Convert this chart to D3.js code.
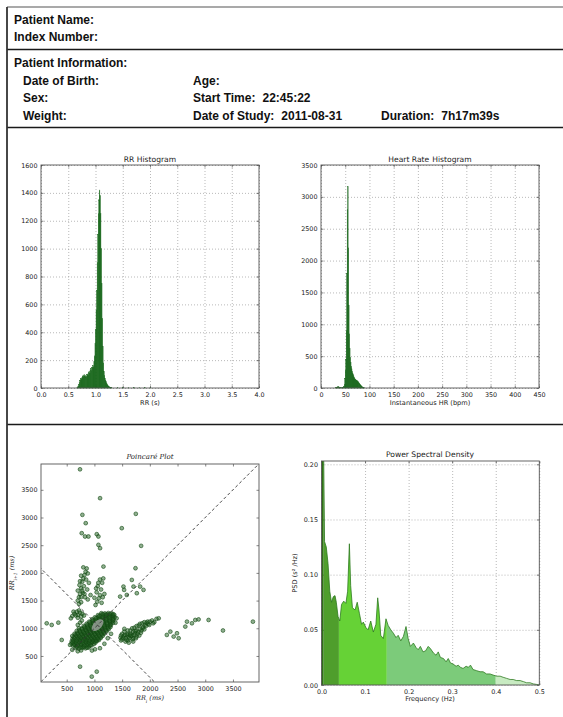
<!DOCTYPE html>
<html>
<head>
<meta charset="utf-8">
<script src="https://cdn.jsdelivr.net/npm/d3@7"></script>
<style>
  body { margin: 0; background: #fff; }
  svg { display: block; }
  .tick text { font-family: "DejaVu Sans", sans-serif; font-size: 6.4px; fill: #222; }
  .ax .domain { display: none; }
  .ax .tick line { stroke: #333; stroke-width: 0.6; }
  .grid .domain { display: none; }
  .grid .tick line { stroke: #8a8a8a; stroke-width: 0.6; stroke-dasharray: 1,2; }
</style>
</head>
<body>
<svg id="page" width="563" height="717"></svg>
<script>
// ---------- Report header ----------
const headerName = ["Patient Name:", "Index Number:"];
const infoTitle = "Patient Information:";
const infoCol1 = ["Date of Birth:", "Sex:", "Weight:"];
const infoCol2 = [["Age:", ""], ["Start Time:", "22:45:22"], ["Date of Study:", "2011-08-31"]];
const infoDuration = ["Duration:", "7h17m39s"];

// ---------- RR histogram (bin start in s, count) ----------
const rrBinWidth = 0.01;
const rrHist = [
  [0.66,3],[0.67,8],[0.68,15],[0.69,25],[0.70,40],[0.71,55],[0.72,60],[0.73,70],[0.74,65],[0.75,75],
  [0.76,85],[0.77,92],[0.78,80],[0.79,95],[0.80,85],[0.81,90],[0.82,78],[0.83,85],[0.84,95],[0.85,100],
  [0.86,90],[0.87,110],[0.88,120],[0.89,105],[0.90,130],[0.91,140],[0.92,125],[0.93,145],[0.94,150],[0.95,160],
  [0.96,150],[0.97,190],[0.98,230],[0.99,320],[1.00,420],[1.01,560],[1.02,700],[1.03,900],[1.04,1100],[1.05,1250],
  [1.06,1350],[1.07,1420],[1.08,1380],[1.09,1250],[1.10,1000],[1.11,750],[1.12,500],[1.13,300],[1.14,180],[1.15,120],
  [1.16,90],[1.17,70],[1.18,55],[1.19,45],[1.20,35],[1.21,28],[1.22,20],[1.23,15],[1.24,10],[1.25,8],
  [1.26,6],[1.27,4],[1.28,3],[1.29,2],
  [1.40,3],[1.50,2],[1.60,4],[1.70,3],[1.80,2],[1.90,3],[2.00,2]
];
const rrXTicks = [0, 0.5, 1, 1.5, 2, 2.5, 3, 3.5, 4];
const rrYTicks = [0, 200, 400, 600, 800, 1000, 1200, 1400, 1600];

// ---------- Heart rate histogram (bin start in bpm, count) ----------
const hrBinWidth = 1;
const hrHist = [
  [30,5],[31,8],[32,12],[33,15],[34,18],[35,20],[36,18],[37,15],[38,10],[39,6],
  [40,4],[41,3],[42,3],[43,4],[44,5],[45,8],[46,12],[47,25],[48,60],[49,150],
  [50,280],[51,450],[52,900],[53,1800],[54,2800],[55,3160],[56,2200],[57,1300],[58,850],[59,620],
  [60,480],[61,400],[62,340],[63,300],[64,260],[65,230],[66,210],[67,190],[68,170],[69,150],
  [70,140],[71,130],[72,125],[73,120],[74,115],[75,105],[76,100],[77,90],[78,80],[79,70],
  [80,60],[81,50],[82,40],[83,30],[84,22],[85,15],[86,10],[87,6],[88,4],[89,2]
];
const hrXTicks = [0, 50, 100, 150, 200, 250, 300, 350, 400, 450];
const hrYTicks = [0, 500, 1000, 1500, 2000, 2500, 3000, 3500];

// ---------- Poincaré plot (RR_i, RR_i+1 in ms) ----------
const poincareCore = "660,645 720,632 785,648 840,638 895,652 610,690 668,676 730,684 792,672 850,688 905,679 948,690 " +
  "585,725 640,716 702,728 760,712 818,724 877,718 935,730 990,715 590,765 650,752 708,768 770,757 828,770 885,755 944,764 1000,758 1045,770 " +
  "605,806 662,795 722,810 780,798 840,805 898,792 955,808 1015,797 1072,806 625,842 688,848 745,835 805,846 866,838 925,850 983,836 1042,845 1108,840 " +
  "655,884 715,875 778,888 838,876 897,886 958,874 1018,889 1078,878 1140,884 690,918 750,926 812,914 872,925 932,917 993,928 1052,915 1112,924 1170,919 " +
  "725,964 788,955 848,966 908,958 968,965 1028,954 1090,967 1150,958 1212,962 768,998 830,1006 890,995 952,1004 1012,996 1072,1008 1133,997 1192,1005 1245,1000 " +
  "808,1042 870,1036 932,1046 993,1038 1055,1044 1116,1035 1175,1046 1236,1038 1278,1045 858,1082 920,1076 982,1086 1043,1078 1103,1088 1165,1077 1226,1085 1290,1079 " +
  "905,1118 968,1126 1030,1116 1092,1124 1152,1115 1213,1126 1275,1118 1325,1124 958,1162 1020,1155 1082,1166 1145,1157 1206,1164 1268,1156 1335,1162 " +
  "1008,1198 1070,1206 1132,1196 1195,1204 1256,1197 1318,1205 1365,1200 1065,1238 1128,1245 1190,1236 1252,1244 1312,1237 1358,1242 1125,1272 1188,1268 1250,1275 1310,1270 " +
  "690,662 752,655 812,664 868,650 636,703 698,696 760,706 822,698 878,708 930,700 " +
  "612,745 672,738 732,748 790,735 848,746 906,738 962,748 1018,740 622,784 680,776 740,790 800,778 858,788 916,776 975,786 1032,778 1082,788 " +
  "640,824 698,818 760,828 820,816 880,826 940,818 1000,828 1058,820 1115,826 668,864 728,856 790,866 850,858 912,868 970,856 1030,866 1092,860 1150,864 " +
  "700,902 762,896 822,906 884,898 944,906 1004,896 1066,906 1126,898 1180,904 738,944 800,936 860,946 920,938 980,946 1040,936 1102,946 1162,938 1220,944 " +
  "780,984 840,976 900,986 960,978 1020,986 1080,976 1142,986 1202,978 1258,984 820,1022 880,1016 942,1026 1002,1018 1064,1026 1124,1016 1186,1026 1246,1018 1290,1024 " +
  "870,1062 930,1056 992,1066 1052,1058 1114,1066 1176,1056 1238,1066 1298,1060 920,1102 982,1096 1044,1106 1106,1098 1168,1106 1228,1096 1290,1106 1338,1100 " +
  "970,1142 1032,1136 1094,1146 1156,1138 1218,1146 1280,1136 1340,1144 1030,1182 1092,1176 1154,1186 1216,1178 1278,1186 1340,1178 " +
  "1090,1222 1152,1216 1214,1226 1276,1218 1336,1224 1155,1256 1218,1252 1280,1258 1340,1254 " +
  "700,1060 742,1102 772,1140 720,1000 680,952 640,900 600,860 560,700 600,612 700,585 760,600 955,598 1010,620 1100,640 1180,720 1240,820 1300,900 1380,1100 1400,1180";
const poincareClusters = "600,1220 640,1262 682,1300 702,1240 742,1282 762,1212 622,1300 722,1322 782,1262 662,1232 700,1190 575,1180 812,1230 " +
  "700,1500 720,1560 740,1620 700,1680 760,1720 730,1780 780,1840 800,1900 820,1960 840,2020 860,2080 800,2100 880,1990 760,1560 790,1640 810,1760 " +
  "850,1880 720,1440 760,1470 830,1560 870,1700 900,1820 780,1680 740,1850 820,1620 880,1520 930,1600 760,1950 " +
  "1020,1420 1050,1480 1080,1540 1100,1600 1040,1650 1120,1700 1060,1760 1140,1820 1100,1880 1160,1900 1000,1550 1130,1460 1180,1620 1070,1820 1150,1560 1030,1720 " +
  "1470,830 1500,800 1530,860 1560,820 1590,880 1620,850 1650,900 1680,870 1700,940 1730,910 1760,960 1790,930 1820,990 1850,960 1880,1020 1910,1060 1940,1100 " +
  "1970,1080 2000,1120 2040,1140 2080,1110 2120,1170 1560,760 1610,780 1700,820 1760,850 1650,960 1720,1010 1800,1050 1860,1090 1500,900 1540,940 2160,1180 " +
  "1480,780 1520,830 1550,880 1580,790 1600,900 1630,820 1660,860 1690,800 1720,880 1750,820 1780,900 1810,870 1840,920 1870,1000 1900,980 1930,1040 " +
  "1960,1120 1990,1060 2060,1090 1600,960 1680,1000 1760,1040 1540,990 1620,740 1700,760 1820,1080 1900,1110 1640,880 1740,950 1480,870";
const poincareOutliers = "2307,880 2370,940 2430,850 2490,910 2520,820 2640,1030 2670,1120 2760,1090 2820,1150 2880,1160 3060,1150 3320,960 3860,1120 " +
  "740,3870 783,3048 843,2898 771,2717 831,2657 892,2657 1102,3349 1042,2699 1072,2506 1102,2446 1072,2657 1494,2807 1747,3066 1843,2488 1741,2084 " +
  "1524,1753 1536,1693 1584,1602 1705,1753 1825,1753 1886,1693 1765,1633 1464,1572 1675,1873 1163,2114 " +
  "139,1090 229,1060 349,1102 410,789 741,307 952,127 1042,217";
const poincareCenter = 1057;      // mean RR (ms) — crossing of the two guide lines
const poincareSD = [130, 75];     // ellipse half-axes along / across the identity line (ms)
const poincareTicks = [500, 1000, 1500, 2000, 2500, 3000, 3500];

// ---------- Power spectral density ([frequency Hz, PSD]) ----------
const psdSpectrum = [
  [0,0.30],[0.002,0.25],[0.005,0.21],[0.007,0.13],[0.011,0.125],[0.015,0.11],[0.019,0.085],[0.023,0.075],[0.027,0.080],[0.031,0.081],
  [0.034,0.075],[0.038,0.062],[0.042,0.058],[0.046,0.073],[0.051,0.076],[0.056,0.074],[0.060,0.085],[0.064,0.128],[0.067,0.090],[0.071,0.070],
  [0.077,0.068],[0.082,0.075],[0.087,0.065],[0.092,0.055],[0.096,0.057],[0.102,0.052],[0.107,0.050],[0.113,0.058],[0.119,0.048],[0.125,0.055],
  [0.129,0.079],[0.132,0.068],[0.136,0.045],[0.142,0.042],[0.148,0.060],[0.153,0.054],[0.159,0.050],[0.165,0.047],[0.171,0.043],[0.176,0.045],
  [0.182,0.040],[0.188,0.044],[0.194,0.053],[0.199,0.042],[0.204,0.035],[0.211,0.038],[0.217,0.034],[0.222,0.032],[0.227,0.035],[0.233,0.030],
  [0.239,0.031],[0.245,0.035],[0.250,0.033],[0.257,0.029],[0.263,0.027],[0.268,0.030],[0.273,0.025],[0.280,0.024],[0.286,0.021],[0.291,0.024],
  [0.296,0.020],[0.302,0.019],[0.309,0.017],[0.314,0.018],[0.319,0.016],[0.325,0.015],[0.332,0.017],[0.337,0.016],[0.342,0.018],[0.348,0.014],
  [0.356,0.013],[0.364,0.012],[0.371,0.012],[0.379,0.010],[0.387,0.010],[0.394,0.009],[0.402,0.008],[0.410,0.008],[0.417,0.007],[0.425,0.006],
  [0.433,0.005],[0.440,0.005],[0.448,0.004],[0.456,0.004],[0.464,0.003],[0.471,0.002],[0.479,0.002],[0.486,0.001],[0.494,0.0005],[0.500,0]
];
const psdBands = [
  { lo: 0.000, hi: 0.005, color: "#2f6f17" },
  { lo: 0.005, hi: 0.040, color: "#4f9e2c" },
  { lo: 0.040, hi: 0.150, color: "#66d236" },
  { lo: 0.150, hi: 0.400, color: "#7ccb7a" },
  { lo: 0.400, hi: 0.500, color: "#c8ebc2" }
];
const psdXTicks = [0, 0.1, 0.2, 0.3, 0.4, 0.5];
const psdYTicks = [0, 0.05, 0.10, 0.15, 0.20];

// ================== drawing ==================
const svg = d3.select("#page");
const parsePts = s => s.trim().split(/\s+/).map(p => p.split(",").map(Number));

// page frame and section rules
const rules = svg.append("g").attr("fill", "none");
rules.append("line").attr("x1", 7).attr("x2", 563).attr("y1", 7).attr("y2", 7).attr("stroke", "#555").attr("stroke-width", 1.2);
[49.5, 127.5, 424.5].forEach(y =>
  rules.append("line").attr("x1", 7).attr("x2", 563).attr("y1", y).attr("y2", y).attr("stroke", "#1a1a1a").attr("stroke-width", 1.5));
rules.append("line").attr("x1", 7).attr("x2", 7).attr("y1", 7).attr("y2", 717).attr("stroke", "#333").attr("stroke-width", 1.8);

// header text: field name followed by its value after a double gap
const hdr = svg.append("g").attr("font-family", "'Liberation Sans', Arial, sans-serif")
  .attr("font-weight", "bold").attr("font-size", "12px").attr("fill", "#111");
function field(x, y, name, value) {
  const t = hdr.append("text").attr("x", x).attr("y", y);
  t.append("tspan").text(name);
  if (value) t.append("tspan").attr("dx", 7).text(value);
}
headerName.forEach((d, i) => field(14, 24 + i * 17, d));
field(14, 67, infoTitle);
infoCol1.forEach((d, i) => field(23, 84.5 + i * 17.5, d));
infoCol2.forEach((d, i) => field(193, 84.5 + i * 17.5, d[0], d[1]));
field(381, 119.5, infoDuration[0], infoDuration[1]);

// shared axes frame: ticks on all four sides, pointing inwards
function drawAxes(x, y, xt, yt, fx, fy, grid) {
  const [x0, x1] = x.range(), [y0, y1] = y.range();
  const g = svg.append("g");
  if (grid) {
    g.append("g").attr("class", "grid").attr("transform", `translate(0,${y0})`)
      .call(d3.axisBottom(x).tickValues(xt).tickSize(-(y0 - y1)).tickFormat(""));
    g.append("g").attr("class", "grid").attr("transform", `translate(${x0},0)`)
      .call(d3.axisLeft(y).tickValues(yt).tickSize(-(x1 - x0)).tickFormat(""));
  }
  g.append("g").attr("class", "ax").attr("transform", `translate(0,${y0})`)
    .call(d3.axisBottom(x).tickValues(xt).tickFormat(fx).tickSizeInner(-2.5).tickSizeOuter(0).tickPadding(4.2));
  g.append("g").attr("class", "ax").attr("transform", `translate(0,${y1})`)
    .call(d3.axisTop(x).tickValues(xt).tickFormat("").tickSizeInner(-2.5).tickSizeOuter(0));
  g.append("g").attr("class", "ax").attr("transform", `translate(${x0},0)`)
    .call(d3.axisLeft(y).tickValues(yt).tickFormat(fy).tickSizeInner(-2.5).tickSizeOuter(0).tickPadding(3.5));
  g.append("g").attr("class", "ax").attr("transform", `translate(${x1},0)`)
    .call(d3.axisRight(y).tickValues(yt).tickFormat("").tickSizeInner(-2.5).tickSizeOuter(0));
  return g;
}
function drawFrame(x, y) {
  const [x0, x1] = x.range(), [y0, y1] = y.range();
  svg.append("rect").attr("x", x0).attr("y", y1).attr("width", x1 - x0).attr("height", y0 - y1)
    .attr("fill", "none").attr("stroke", "#555").attr("stroke-width", 0.9);
}
function label(x, y, txt, opts = {}) {
  const t = svg.append("text").attr("x", x).attr("y", y).attr("text-anchor", "middle")
    .attr("font-family", opts.family || "'DejaVu Sans', sans-serif")
    .attr("font-size", opts.size || "6.6px").attr("fill", "#222");
  if (opts.italic) t.attr("font-style", "italic");
  if (opts.rotate) t.attr("transform", `rotate(-90,${x},${y})`);
  t.text(txt);
  return t;
}
const barColor = "#17661a";

// ---- RR histogram ----
{
  const x = d3.scaleLinear([0, 4], [41, 259]);
  const y = d3.scaleLinear([0, 1600], [388, 165]);
  drawAxes(x, y, rrXTicks, rrYTicks, d3.format(".1f"), d3.format("d"), true);
  svg.append("g").selectAll("rect").data(rrHist).join("rect")
    .attr("x", d => x(d[0])).attr("width", d => x(d[0] + rrBinWidth) - x(d[0]))
    .attr("y", d => y(d[1])).attr("height", d => y(0) - y(d[1]))
    .attr("fill", barColor).attr("stroke", barColor).attr("stroke-width", 0.4);
  drawFrame(x, y);
  label(150, 161.5, "RR Histogram", { size: "7.6px" });
  label(150, 404.5, "RR (s)");
}

// ---- Heart rate histogram ----
{
  const x = d3.scaleLinear([0, 450], [321, 539]);
  const y = d3.scaleLinear([0, 3500], [388, 165]);
  drawAxes(x, y, hrXTicks, hrYTicks, d3.format("d"), d3.format("d"), true);
  svg.append("g").selectAll("rect").data(hrHist).join("rect")
    .attr("x", d => x(d[0])).attr("width", d => x(d[0] + hrBinWidth) - x(d[0]))
    .attr("y", d => y(d[1])).attr("height", d => y(0) - y(d[1]))
    .attr("fill", barColor).attr("stroke", barColor).attr("stroke-width", 0.4);
  drawFrame(x, y);
  const t = label(430, 161.5, "", { size: "7.6px" });
  t.append("tspan").text("Heart Rate");
  t.append("tspan").attr("dx", 3).text("Histogram");
  label(430, 404.5, "Instantaneous HR (bpm)");
}

// ---- Poincaré plot ----
{
  const x = d3.scaleLinear([36, 3970], [41, 259]);
  const y = d3.scaleLinear([30, 3966], [682, 464]);
  drawAxes(x, y, poincareTicks, poincareTicks, d3.format("d"), d3.format("d"), false);
  const clipId = "poincare-clip";
  svg.append("clipPath").attr("id", clipId).append("rect")
    .attr("x", 41).attr("y", 464).attr("width", 218).attr("height", 218);
  const pg = svg.append("g").attr("clip-path", `url(#${clipId})`);
  const pts = parsePts(poincareOutliers).concat(parsePts(poincareClusters), parsePts(poincareCore));
  pg.selectAll("circle").data(pts).join("circle")
    .attr("cx", d => x(d[0])).attr("cy", d => y(d[1])).attr("r", 1.9)
    .attr("fill", "#1f5f1f").attr("fill-opacity", 0.5)
    .attr("stroke", "#134813").attr("stroke-opacity", 0.85).attr("stroke-width", 0.7);
  // SD1/SD2 ellipse centred on the mean RR
  const cx = x(poincareCenter), cy = y(poincareCenter);
  const pxPerMs = (x(1000) - x(0)) / 1000;
  pg.append("ellipse").attr("cx", cx).attr("cy", cy)
    .attr("rx", poincareSD[0] * pxPerMs).attr("ry", poincareSD[1] * pxPerMs)
    .attr("transform", `rotate(-45,${cx},${cy})`)
    .attr("fill", "#a8a8a8").attr("fill-opacity", 0.75).attr("stroke", "none");
  // identity line and its perpendicular through the mean
  const dom = x.domain();
  pg.append("line").attr("x1", x(dom[0])).attr("y1", y(dom[0])).attr("x2", x(dom[1])).attr("y2", y(dom[1]))
    .attr("stroke", "#333").attr("stroke-width", 0.9).attr("stroke-dasharray", "3,2.5");
  pg.append("line").attr("x1", x(0)).attr("y1", y(2 * poincareCenter)).attr("x2", x(2 * poincareCenter)).attr("y2", y(0))
    .attr("stroke", "#333").attr("stroke-width", 0.9).attr("stroke-dasharray", "3,2.5");
  drawFrame(x, y);
  label(150, 459, "Poincaré Plot", { family: "'DejaVu Serif', serif", italic: true, size: "7px" });
  const xl = label(150, 700, "", { family: "'DejaVu Serif', serif", italic: true, size: "6.5px" });
  xl.append("tspan").text("RR");
  xl.append("tspan").attr("baseline-shift", "sub").attr("font-size", "4.5px").text("i");
  xl.append("tspan").text(" (ms)");
  const yl = label(14, 573, "", { family: "'DejaVu Serif', serif", italic: true, size: "6.5px", rotate: true });
  yl.append("tspan").text("RR");
  yl.append("tspan").attr("baseline-shift", "sub").attr("font-size", "4.5px").text("i+1");
  yl.append("tspan").text(" (ms)");
}

// ---- Power spectral density ----
{
  const x = d3.scaleLinear([0, 0.5], [321.5, 539.3]);
  const y = d3.scaleLinear([0, 0.203], [685, 461]);
  drawAxes(x, y, psdXTicks, psdYTicks, d3.format(".1f"), d3.format(".2f"), true);
  svg.append("clipPath").attr("id", "psd-clip").append("rect")
    .attr("x", 321.5).attr("y", 461).attr("width", 539.3 - 321.5).attr("height", 224);
  const pg = svg.append("g").attr("clip-path", "url(#psd-clip)");
  const area = d3.area().x(d => x(d[0])).y0(y(0)).y1(d => y(d[1]));
  psdBands.forEach((b, i) => {
    const id = "band-" + i;
    svg.append("clipPath").attr("id", id).append("rect")
      .attr("x", x(b.lo)).attr("y", 461).attr("width", x(b.hi) - x(b.lo)).attr("height", 224);
    pg.append("g").attr("clip-path", `url(#${id})`)
      .append("path").datum(psdSpectrum).attr("d", area).attr("fill", b.color);
  });
  pg.append("path").datum(psdSpectrum).attr("d", d3.line().x(d => x(d[0])).y(d => y(d[1])))
    .attr("fill", "none").attr("stroke", "#2d7a1f").attr("stroke-width", 0.8);
  drawFrame(x, y);
  label(430, 457, "Power Spectral Density", { size: "7.6px" });
  label(430, 700.5, "Frequency (Hz)");
  label(297, 573, "PSD (s² /Hz)", { rotate: true });
}
</script>
</body>
</html>
